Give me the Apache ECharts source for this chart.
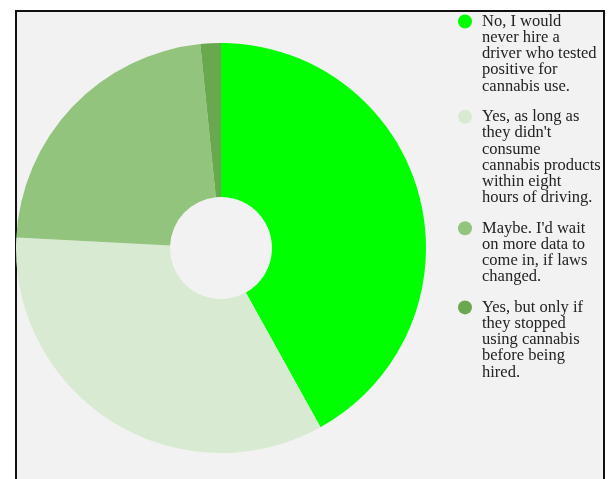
<!DOCTYPE html>
<html>
<head>
<meta charset="utf-8">
<script src="https://cdn.jsdelivr.net/npm/echarts@6/dist/echarts.min.js"></script>
<style>
  html, body { margin: 0; padding: 0; background: #ffffff; overflow: hidden; }
  #box { position: absolute; left: 15px; top: 10px; width: 586px; height: 500px;
         border: 2px solid #111; background: #f2f2f2; box-sizing: content-box; }
  #chart { position: absolute; left: 0; top: 0; width: 613px; height: 479px; }
</style>
</head>
<body>
<div id="box"></div>
<div id="chart"></div>
<script>
// ---- data ----
const categories = [
  "No, I would never hire a driver who tested positive for cannabis use.",
  "Yes, as long as they didn't consume cannabis products within eight hours of driving.",
  "Maybe. I'd wait on more data to come in, if laws changed.",
  "Yes, but only if they stopped using cannabis before being hired."
];
const values = [26, 21, 14, 1];
const legendLines = [
  ["No, I would", "never hire a", "driver who tested", "positive for", "cannabis use."],
  ["Yes, as long as", "they didn't", "consume", "cannabis products", "within eight", "hours of driving."],
  ["Maybe. I'd wait", "on more data to", "come in, if laws", "changed."],
  ["Yes, but only if", "they stopped", "using cannabis", "before being", "hired."]
];
const colors = ["#00ff00", "#d9ead3", "#93c47d", "#6aa84f"];

// ---- chart ----
const chart = echarts.init(document.getElementById('chart'), null, { renderer: 'canvas' });
const LH = 16.2;
const rich = {
  sp: { width: 10, height: 14, lineHeight: LH },
  ind: { width: 24, height: 14, lineHeight: LH }
};
colors.forEach(function (c, i) {
  rich['dot' + i] = { width: 14, height: 14, lineHeight: LH, borderRadius: 7, backgroundColor: c };
});

chart.setOption({
  backgroundColor: 'transparent',
  animation: false,
  color: colors,
  legend: {
    orient: 'vertical',
    left: 453,
    top: 13,
    padding: 0,
    itemGap: 13.5,
    itemWidth: 0,
    itemHeight: 14,
    icon: 'none',
    selectedMode: false,
    data: categories,
    formatter: function (name) {
      const i = categories.indexOf(name);
      return legendLines[i].map(function (l, j) {
        return (j === 0 ? '{dot' + i + '|}{sp|}' : '{ind|}') + l;
      }).join('\n');
    },
    textStyle: {
      fontFamily: '"Liberation Serif", "Times New Roman", serif',
      fontSize: 16.5,
      lineHeight: LH,
      color: '#222',
      rich: rich
    }
  },
  series: [{
    type: 'pie',
    center: [221, 248],
    radius: [51, 205],
    startAngle: 90,
    clockwise: true,
    label: { show: false },
    labelLine: { show: false },
    itemStyle: { borderWidth: 0 },
    emphasis: { disabled: true },
    data: categories.map(function (n, i) { return { name: n, value: values[i] }; })
  }]
});
</script>
</body>
</html>
